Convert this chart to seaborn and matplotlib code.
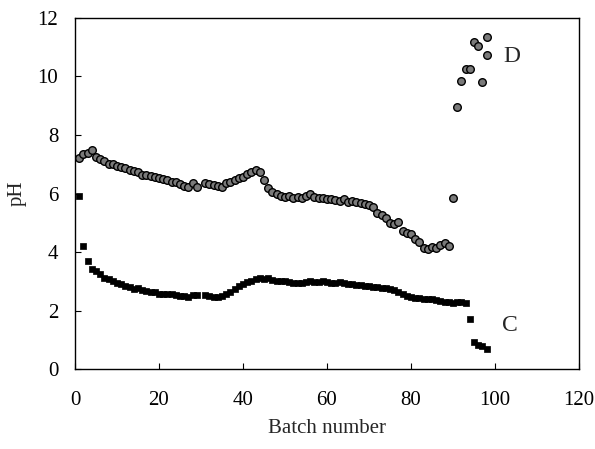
import matplotlib
matplotlib.use("Agg")
import matplotlib.pyplot as plt
import numpy as np
import pandas as pd
import seaborn as sns

# batch numbers (batch 30 missing in both series)
batch_d = list(range(1, 30)) + list(range(31, 99)) + [98]
ph_d = [
    7.20, 7.35, 7.40, 7.48, 7.25, 7.18, 7.12, 7.02, 7.00, 6.95,
    6.92, 6.88, 6.82, 6.78, 6.72, 6.65, 6.62, 6.60, 6.55, 6.52,
    6.50, 6.45, 6.40, 6.38, 6.33, 6.25, 6.22, 6.35, 6.22,
    6.35, 6.33, 6.30, 6.25, 6.22, 6.35, 6.38, 6.45, 6.52, 6.58,
    6.68, 6.75, 6.80, 6.72, 6.45, 6.20, 6.05, 6.00, 5.92, 5.88,
    5.92, 5.85, 5.88, 5.85, 5.92, 6.00, 5.88, 5.85, 5.83, 5.82,
    5.80, 5.78, 5.75, 5.80, 5.72, 5.75, 5.70, 5.68, 5.65, 5.60,
    5.55, 5.35, 5.25, 5.15, 5.00, 4.95, 5.02, 4.72, 4.65, 4.60,
    4.45, 4.35, 4.15, 4.12, 4.18, 4.15, 4.25, 4.30, 4.20, 5.85,
    8.95, 9.85, 10.25, 10.25, 11.18, 11.05, 9.82, 11.35, 10.72,
]

batch_c = list(range(1, 30)) + list(range(31, 99))
ph_c = [
    5.92, 4.20, 3.70, 3.42, 3.35, 3.25, 3.12, 3.08, 3.00, 2.95,
    2.90, 2.85, 2.80, 2.72, 2.78, 2.70, 2.68, 2.62, 2.62, 2.58,
    2.56, 2.55, 2.55, 2.52, 2.50, 2.50, 2.48, 2.52, 2.52,
    2.52, 2.50, 2.48, 2.48, 2.50, 2.55, 2.65, 2.75, 2.85, 2.92,
    2.98, 3.02, 3.08, 3.10, 3.08, 3.10, 3.05, 3.02, 3.00, 3.00,
    2.98, 2.95, 2.93, 2.95, 2.98, 3.00, 2.98, 2.98, 3.00, 2.98,
    2.95, 2.95, 2.97, 2.93, 2.90, 2.90, 2.88, 2.87, 2.85, 2.83,
    2.82, 2.80, 2.78, 2.76, 2.73, 2.70, 2.62, 2.55, 2.50, 2.45,
    2.43, 2.42, 2.40, 2.40, 2.38, 2.36, 2.33, 2.30, 2.28, 2.25,
    2.30, 2.28, 2.26, 1.72, 0.92, 0.82, 0.78, 0.68,
]

df_d = pd.DataFrame({"batch": batch_d, "pH": ph_d})
df_c = pd.DataFrame({"batch": batch_c, "pH": ph_c})

sns.set_style("ticks")
plt.rcParams["font.family"] = ["Liberation Serif", "DejaVu Serif"]

fig = plt.figure(figsize=(5.95, 4.49), dpi=100)
ax = fig.add_axes([0.126, 0.178, 0.847, 0.782])

sns.scatterplot(data=df_d, x="batch", y="pH", marker="o", s=30,
                color="#7a7a7a", edgecolor="black", linewidth=1.0, ax=ax)
sns.scatterplot(data=df_c, x="batch", y="pH", marker="s", s=24,
                color="black", edgecolor="black", linewidth=0.5, ax=ax)

ax.text(104, 10.67, "D", fontsize=17, ha="center", va="center")
ax.text(103.6, 1.5, "C", fontsize=17, ha="center", va="center")

ax.set_xlim(0, 120)
ax.set_ylim(0, 12)
ax.set_xticks(np.arange(0, 121, 20))
ax.set_yticks(np.arange(0, 13, 2))
ax.tick_params(axis="both", direction="in", length=4, width=0.8,
               labelsize=15, colors="black")
ax.tick_params(axis="x", pad=16)
ax.tick_params(axis="y", pad=12)
ax.set_xlabel("Batch number", fontsize=15, labelpad=6)
ax.set_ylabel("pH", fontsize=15, labelpad=8)
for sp in ax.spines.values():
    sp.set_visible(True)
    sp.set_linewidth(1.0)
    sp.set_color("black")

fig.savefig("out.png", dpi=100)
